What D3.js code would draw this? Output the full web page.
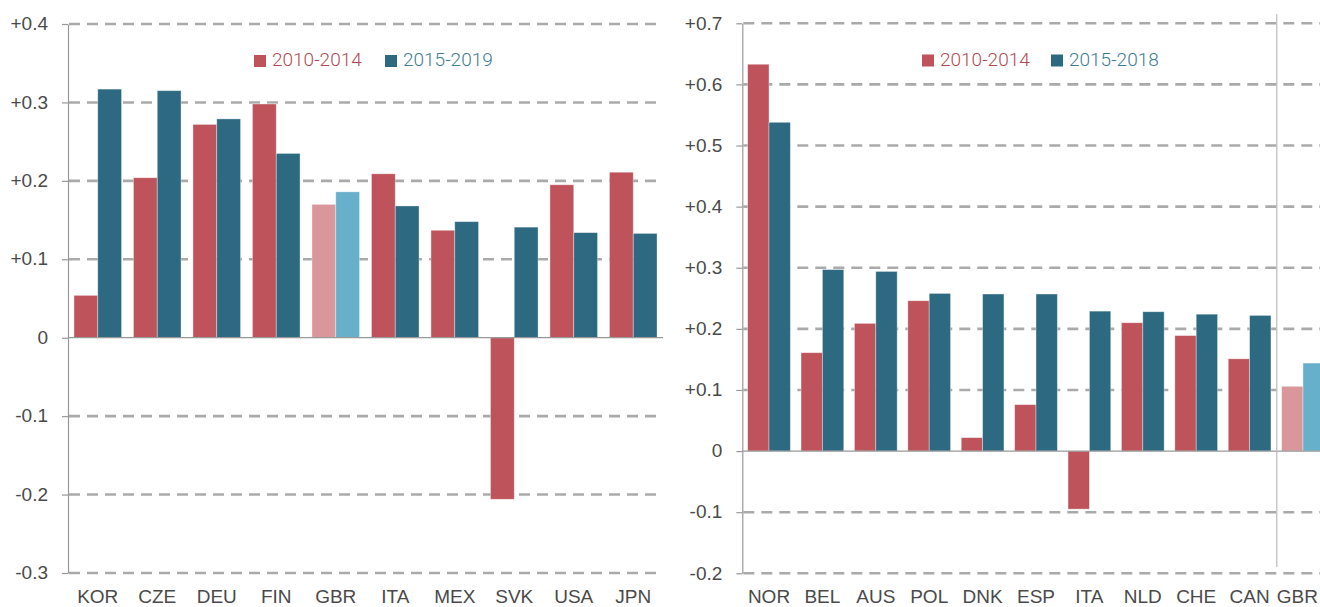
<!DOCTYPE html>
<html>
<head>
<meta charset="utf-8">
<script src="https://cdn.jsdelivr.net/npm/d3@7"></script>
<style>
  html, body { margin: 0; padding: 0; background: #fff; }
  svg { display: block; font-family: Roboto, "Noto Sans", sans-serif; }
  .tick text { font-size: 19px; font-weight: 300; fill: #4a4a4a; }
  .legend text { font-size: 19px; font-weight: 300; }
</style>
</head>
<body>
<svg id="chart" width="1320" height="607"></svg>
<script>
// left panel
const leftCategories = ["KOR", "CZE", "DEU", "FIN", "GBR", "ITA", "MEX", "SVK", "USA", "JPN"];
const left2010 = [0.054, 0.204, 0.272, 0.298, 0.170, 0.209, 0.137, -0.206, 0.195, 0.211];
const left2015 = [0.317, 0.315, 0.279, 0.235, 0.186, 0.168, 0.148, 0.141, 0.134, 0.133];
const leftTicks = [-0.3, -0.2, -0.1, 0, 0.1, 0.2, 0.3, 0.4];
const leftSeries = ["2010-2014", "2015-2019"];

// right panel
const rightCategories = ["NOR", "BEL", "AUS", "POL", "DNK", "ESP", "ITA", "NLD", "CHE", "CAN", "GBR"];
const right2010 = [0.633, 0.161, 0.209, 0.246, 0.022, 0.076, -0.095, 0.210, 0.189, 0.151, 0.106];
const right2015 = [0.538, 0.297, 0.294, 0.258, 0.257, 0.257, 0.229, 0.228, 0.224, 0.222, 0.144];
const rightTicks = [-0.2, -0.1, 0, 0.1, 0.2, 0.3, 0.4, 0.5, 0.6, 0.7];
const rightSeries = ["2010-2014", "2015-2018"];

const highlight = "GBR";

const colors = {
  red: "#be535c", blue: "#2d6a82",
  redLight: "#d9979c", blueLight: "#67b0cb",
  redText: "#b04a52", blueText: "#3e7c95",
  grid: "#aaa", axis: "#999"
};

const W = 1320;
const svg = d3.select("#chart");

// plain hyphen for negatives, plus sign for positives
function fmt(d) {
  if (d === 0) return "0";
  return (d > 0 ? "+" : "-") + Math.abs(d).toFixed(1);
}

function drawPanel(opt) {
  const g = svg.append("g");

  const x = d3.scaleBand()
    .domain(opt.categories)
    .range([opt.x0, opt.x1])
    .paddingInner(0.2)
    .paddingOuter(0.1);

  const sub = d3.scaleBand()
    .domain([0, 1])
    .range([0, x.bandwidth()]);

  const y = d3.scaleLinear()
    .domain(d3.extent(opt.ticks))
    .range([opt.yBottom, opt.yTop]);

  // dashed gridlines
  g.append("g")
    .selectAll("line")
    .data(opt.ticks.filter(t => t !== 0))
    .enter()
    .append("line")
    .attr("x1", opt.x0 + 1)
    .attr("x2", opt.gridEnd)
    .attr("y1", d => y(d))
    .attr("y2", d => y(d))
    .attr("stroke", colors.grid)
    .attr("stroke-width", 2.6)
    .attr("stroke-dasharray", "11,7");

  // bars
  const rows = opt.categories.map((c, i) => ({ c, vals: [opt.a[i], opt.b[i]] }));
  const grp = g.append("g")
    .selectAll("g")
    .data(rows)
    .enter()
    .append("g")
    .attr("transform", d => `translate(${x(d.c)},0)`);

  grp.selectAll("rect")
    .data(d => d.vals.map((v, k) => ({ v, k, c: d.c })))
    .enter()
    .append("rect")
    .attr("x", d => sub(d.k))
    .attr("width", sub.bandwidth())
    .attr("y", d => y(Math.max(0, d.v)))
    .attr("height", d => Math.abs(y(d.v) - y(0)))
    .attr("fill", d => {
      if (d.c === highlight) return d.k === 0 ? colors.redLight : colors.blueLight;
      return d.k === 0 ? colors.red : colors.blue;
    })
    .attr("stroke", "#fff")
    .attr("stroke-opacity", 0.45)
    .attr("stroke-width", 0.8);

  // zero line
  g.append("line")
    .attr("x1", opt.x0)
    .attr("x2", opt.gridEnd)
    .attr("y1", y(0))
    .attr("y2", y(0))
    .attr("stroke", colors.axis)
    .attr("stroke-width", 1.3);

  // y axis
  const yAxis = g.append("g")
    .attr("transform", `translate(${opt.x0},0)`)
    .call(d3.axisLeft(y).tickValues(opt.ticks).tickFormat(fmt).tickSize(6).tickSizeOuter(0).tickPadding(14));
  yAxis.select(".domain").attr("stroke", colors.axis).attr("stroke-width", 1.2);
  yAxis.selectAll(".tick line").attr("stroke", colors.axis).attr("stroke-width", 1.2);
  yAxis.selectAll(".tick text").attr("dy", "0.3em");

  // x labels
  const xAxis = g.append("g")
    .attr("transform", `translate(0,${opt.labelY})`)
    .call(d3.axisBottom(x).tickSize(0).tickPadding(0));
  xAxis.select(".domain").remove();
  xAxis.selectAll(".tick text").attr("dy", 0);

  // pull any label that runs past the right edge back inside
  xAxis.selectAll(".tick").each(function () {
    const t = d3.select(this).select("text");
    const box = this.getBoundingClientRect();
    if (box.right > W - 2) {
      t.attr("dx", -(box.right - (W - 2)));
    }
  });

  // legend
  const lg = g.append("g").attr("class", "legend");
  opt.series.forEach((s, k) => {
    const lx = opt.legendX[k];
    lg.append("rect")
      .attr("x", lx)
      .attr("y", opt.legendY - 11)
      .attr("width", 12)
      .attr("height", 12)
      .attr("fill", k === 0 ? colors.red : colors.blue);
    lg.append("text")
      .attr("x", lx + 18)
      .attr("y", opt.legendY)
      .attr("fill", k === 0 ? colors.redText : colors.blueText)
      .text(s);
  });

  return { x, y };
}

drawPanel({
  categories: leftCategories, a: left2010, b: left2015, ticks: leftTicks, series: leftSeries,
  x0: 68, x1: 663, gridEnd: 663, yTop: 24, yBottom: 573, labelY: 603,
  legendX: [254, 385], legendY: 66
});

const right = drawPanel({
  categories: rightCategories, a: right2010, b: right2015, ticks: rightTicks, series: rightSeries,
  x0: 742.3, x1: 1329.7, gridEnd: 1320, yTop: 23.3, yBottom: 573.3, labelY: 603,
  legendX: [922, 1051], legendY: 65.5
});

// separator before the highlighted country
const sepX = right.x(highlight) - (right.x.step() - right.x.bandwidth()) / 2 + 0.5;
svg.append("line")
  .attr("x1", sepX)
  .attr("x2", sepX)
  .attr("y1", 14)
  .attr("y2", 567)
  .attr("stroke", "#bbb")
  .attr("stroke-width", 1.2);
</script>
</body>
</html>
